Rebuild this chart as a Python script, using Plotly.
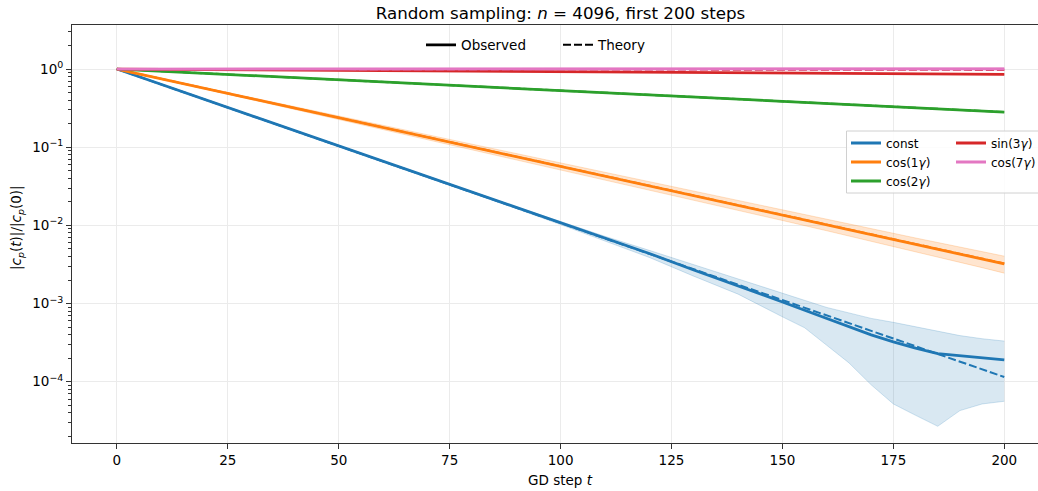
import plotly.graph_objects as go

# ---------------- data ----------------
steps = [0, 10, 20, 30, 40, 50, 60, 70, 80, 90, 100, 110, 120, 130, 140,
         150, 160, 170, 175, 180, 185, 190, 195, 200]
steps_const = [0, 10, 20, 30, 40, 50, 60, 70, 80, 90, 100, 110, 120, 130, 140,
               150, 155, 160, 165, 170, 175, 180, 185, 190, 195, 200]
steps_coarse = [0, 50, 100, 150, 200]

const_obs = [1.0, 0.635, 0.404, 0.256, 0.163, 0.1035, 0.0658, 0.0418, 0.0265,
             0.01687, 0.01072, 0.00681, 0.00437, 0.00269, 0.001698, 0.001047,
             0.000822, 0.000646, 0.000507, 0.000398, 0.000324, 0.000269,
             0.000229, 0.000214, 0.0001995, 0.0001905]
const_upper = [1.0, 0.637, 0.405, 0.257, 0.1635, 0.104, 0.0662, 0.0421, 0.0268,
               0.01726, 0.01122, 0.00724, 0.00479, 0.00316, 0.00209, 0.00135,
               0.001096, 0.000891, 0.000759, 0.000646, 0.000575, 0.000501,
               0.000437, 0.000389, 0.000355, 0.000331]
const_lower = [1.0, 0.633, 0.402, 0.255, 0.1625, 0.103, 0.0654, 0.0414, 0.0262,
               0.01641, 0.01023, 0.00631, 0.00389, 0.00224, 0.00132, 0.000676,
               0.000490, 0.000292, 0.000174, 0.0000912, 0.0000519, 0.0000372,
               0.0000269, 0.0000427, 0.0000519, 0.0000562]
const_theory = [1.0, 0.1035, 0.01072, 0.001109, 0.0001148]

cos1_obs = [1.0, 0.751, 0.564, 0.423, 0.318, 0.2385, 0.179, 0.1344, 0.1009,
            0.0758, 0.0569, 0.0427, 0.03206, 0.02407, 0.01807, 0.01357, 0.01019,
            0.00765, 0.00662, 0.00574, 0.00498, 0.00431, 0.00373, 0.00322]
cos1_upper = [1.0, 0.7577, 0.5741, 0.4350, 0.3296, 0.2497, 0.1892, 0.1434, 0.1086,
              0.0823, 0.0624, 0.0473, 0.0358, 0.02714, 0.02056, 0.01558, 0.01186,
              0.00903, 0.00789, 0.00690, 0.00604, 0.00528, 0.00461, 0.00404]
cos1_lower = [1.0, 0.7439, 0.5533, 0.4117, 0.3055, 0.2273, 0.1690, 0.1255, 0.0933,
              0.0693, 0.0515, 0.0382, 0.02838, 0.02106, 0.01560, 0.01155, 0.00853,
              0.00629, 0.00538, 0.00461, 0.00395, 0.00338, 0.00288, 0.00245]
cos1_theory = [1.0, 0.2385, 0.0569, 0.01357, 0.00326]

cos2_obs = [1.0, 0.7280, 0.5302, 0.3861, 0.2812]
cos2_upper = [1.0, 0.733, 0.536, 0.391, 0.2855]
cos2_lower = [1.0, 0.723, 0.525, 0.381, 0.2770]
cos2_theory = [1.0, 0.7285, 0.5308, 0.3867, 0.2818]

sin3_obs = [1.0, 0.961, 0.924, 0.889, 0.855]
sin3_upper = [1.0, 0.966, 0.931, 0.897, 0.864]
sin3_lower = [1.0, 0.956, 0.917, 0.881, 0.846]
sin3_theory = [1.0, 0.994, 0.988, 0.981, 0.975]

cos7_obs = [1.0, 1.004, 1.006, 1.007, 1.008]
cos7_upper = [1.0, 1.025, 1.032, 1.036, 1.04]
cos7_lower = [1.0, 0.985, 0.979, 0.975, 0.972]
cos7_theory = [1.0, 0.998, 0.996, 0.994, 0.992]

x_ticks = [0, 25, 50, 75, 100, 125, 150, 175, 200]
y_ticks = [1e-4, 1e-3, 1e-2, 1e-1, 1]
y_ticktext = ["10<sup>−4</sup>", "10<sup>−3</sup>", "10<sup>−2</sup>",
              "10<sup>−1</sup>", "10<sup>0</sup>"]

title_text = "Random sampling: <i>n</i> = 4096, first 200 steps"
xlabel = "GD step <i>t</i>"
ylabel = "|<i>c</i><sub><i>p</i></sub>(<i>t</i>)|/|<i>c</i><sub><i>p</i></sub>(0)|"

series = [
    # name, rgb, legend, x, obs, lower, upper, theory, band alpha
    ("const", "31,119,180", "legend2", steps_const, const_obs, const_lower, const_upper, const_theory, 0.17),
    ("cos(1<i>γ</i>)", "255,127,14", "legend2", steps, cos1_obs, cos1_lower, cos1_upper, cos1_theory, 0.2),
    ("cos(2<i>γ</i>)", "44,160,44", "legend2", steps_coarse, cos2_obs, cos2_lower, cos2_upper, cos2_theory, 0.2),
    ("sin(3<i>γ</i>)", "214,39,40", "legend3", steps_coarse, sin3_obs, sin3_lower, sin3_upper, sin3_theory, 0.2),
    ("cos(7<i>γ</i>)", "227,119,194", "legend3", steps_coarse, cos7_obs, cos7_lower, cos7_upper, cos7_theory, 0.3),
]

FONT = "DejaVu Sans"
fig = go.Figure()

for name, rgb, leg, xs, obs, lo, hi, th, a in series:
    fig.add_trace(go.Scatter(x=xs, y=lo, mode="lines",
                             line=dict(width=0.8, color=f"rgba({rgb},{a + 0.08})"),
                             showlegend=False, hoverinfo="skip"))
    fig.add_trace(go.Scatter(x=xs, y=hi, mode="lines", fill="tonexty",
                             fillcolor=f"rgba({rgb},{a})",
                             line=dict(width=0.8, color=f"rgba({rgb},{a + 0.08})"),
                             showlegend=False, hoverinfo="skip"))
    fig.add_trace(go.Scatter(x=xs, y=obs, mode="lines", name=name,
                             line=dict(width=2.8, color=f"rgb({rgb})"),
                             legend=leg, showlegend=True))
    fig.add_trace(go.Scatter(x=steps_coarse, y=th, mode="lines",
                             line=dict(width=2.0, color=f"rgb({rgb})", dash="8px,3px"),
                             showlegend=False))

# style legend keys
fig.add_trace(go.Scatter(x=[None], y=[None], mode="lines", name="Observed",
                         line=dict(width=2.8, color="black"), legend="legend"))
fig.add_trace(go.Scatter(x=[None], y=[None], mode="lines", name="Theory",
                         line=dict(width=2.0, color="black", dash="8px,3px"),
                         legend="legend"))

PL, PT, PB = 72, 25, 48
W, H = 1038, 491
pw, ph = W - PL, H - PT - PB


def px_x(p):
    return (p - PL) / pw


def px_y(p):
    return (H - PB - p) / ph


minor_vals = [k * 10.0 ** e for e in range(-5, 1) for k in range(2, 10)]

fig.update_layout(
    width=W, height=H,
    margin=dict(l=PL, r=0, t=PT, b=PB, pad=0, autoexpand=False),
    paper_bgcolor="white", plot_bgcolor="white",
    font=dict(family=FONT, size=13.5, color="black"),
    title=dict(text=title_text, x=px_x(560.5), xref="paper", xanchor="center",
               y=1 - 13 / H, yref="container", yanchor="middle",
               font=dict(size=16.7, family=FONT, color="black")),
    xaxis=dict(range=[-10.12, 207.6], tickmode="array", tickvals=x_ticks,
               ticks="outside", ticklen=5, tickwidth=1, tickcolor="#333",
               showline=True, linecolor="#333", linewidth=1, mirror=True,
               showgrid=True, gridcolor="#ebebeb", gridwidth=1, zeroline=False,
               tickfont=dict(size=13.5, family=FONT, color="black")),
    yaxis=dict(type="log", range=[-4.784, 0.5636], tickmode="array",
               tickvals=y_ticks, ticktext=y_ticktext,
               ticks="outside", ticklen=5, tickwidth=1, tickcolor="#333",
               showline=True, linecolor="#333", linewidth=1, mirror=False,
               showgrid=True, gridcolor="#ebebeb", gridwidth=1, zeroline=False,
               tickfont=dict(size=13.5, family=FONT, color="black"),
               minor=dict(tickmode="array", tickvals=minor_vals, ticks="outside",
                          ticklen=2.8, tickwidth=0.8, tickcolor="#333",
                          showgrid=False)),
    legend=dict(orientation="h", x=px_x(421), xanchor="left", y=px_y(45),
                yanchor="middle", bgcolor="rgba(0,0,0,0)", borderwidth=0,
                entrywidth=92, itemwidth=30, traceorder="normal",
                font=dict(size=13.5, family=FONT, color="black")),
    legend2=dict(orientation="v", x=px_x(846), xanchor="left", y=px_y(128.5),
                 yanchor="top", bgcolor="rgba(0,0,0,0)", borderwidth=0,
                 itemwidth=30, tracegroupgap=0, traceorder="normal",
                 font=dict(size=12, family=FONT, color="black")),
    legend3=dict(orientation="v", x=px_x(951), xanchor="left", y=px_y(128.5),
                 yanchor="top", bgcolor="rgba(0,0,0,0)", borderwidth=0,
                 itemwidth=30, tracegroupgap=0, traceorder="normal",
                 font=dict(size=12, family=FONT, color="black")),
    shapes=[dict(type="rect", xref="paper", yref="paper",
                 x0=px_x(846.5), x1=px_x(1046), y0=px_y(193), y1=px_y(131),
                 line=dict(color="#d0d0d0", width=1),
                 fillcolor="rgba(255,255,255,0.85)", layer="above")],
    annotations=[
        dict(text=xlabel, x=px_x(560.5), y=px_y(480), xref="paper", yref="paper",
             xanchor="center", yanchor="middle", showarrow=False,
             font=dict(size=13.5, family=FONT, color="black")),
        dict(text=ylabel, x=px_x(17), y=px_y(228), xref="paper", yref="paper",
             xanchor="center", yanchor="middle", showarrow=False, textangle=-90,
             font=dict(size=13.5, family=FONT, color="black")),
    ],
    hovermode=False,
)

fig.write_html("out.html")
